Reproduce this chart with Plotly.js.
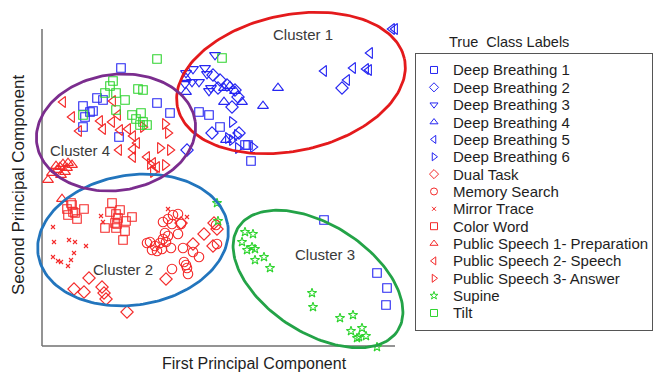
<!DOCTYPE html>
<html>
<head>
<meta charset="utf-8">
<script src="https://cdn.plot.ly/plotly-3.0.1.min.js"></script>
<style>
  html, body { margin: 0; padding: 0; background: #ffffff; }
  #chart { width: 654px; height: 374px; }
</style>
</head>
<body>
<div id="chart"></div>
<script>
// Principal component scores for each recording condition (PC1, PC2; arbitrary units)
const deepBreathing1X = [79, 55, 61, 41, 51, 48, 43, 41, 115, 128, 77, 157, 167, 178, 203, 206, 209, 282, 335, 345, 344];
const deepBreathing1Y = [278, 248, 246, 240, 235, 234, 229, 219, 243, 233, 209, 234, 231, 219, 201, 201, 185, 126, 73, 58, 41];

const deepBreathing2X = [171, 178, 185, 193, 196, 190, 170, 197, 300, 145, 176];
const deepBreathing2Y = [271, 266, 261, 256, 249, 239, 213, 213, 258, 196, 258];

const deepBreathing3X = [173, 151, 144, 163, 165, 150, 157, 143, 169, 167];
const deepBreathing3Y = [291, 277, 273, 278, 272, 264, 264, 262, 258, 255];

const deepBreathing4X = [182, 188, 193, 182, 200, 221, 236, 144, 144, 184];
const deepBreathing4Y = [258, 260, 255, 244, 244, 240, 258, 254, 268, 206];

const deepBreathing5X = [350, 353, 328, 282, 311, 324, 327, 305];
const deepBreathing5Y = [317, 317, 293, 275, 278, 277, 276, 266];

const deepBreathing6X = [190, 195, 186, 196, 211, 190];
const deepBreathing6Y = [224, 211, 208, 198, 199, 206];

const dualTaskX = [47, 32, 42, 60, 62, 64, 85, 124, 162, 151, 171, 175, 172, 139];
const dualTaskY = [68, 57, 54, 59, 53, 47, 34, 67, 112, 102, 100, 117, 123, 123];

const memorySearchX = [121, 126, 131, 136, 130, 139, 123, 126, 121, 136, 108, 113, 118, 124, 115, 120, 129, 141, 151, 157, 142, 144, 145, 146, 130, 174, 175, 105, 110];
const memorySearchY = [124, 127, 131, 132, 122, 122, 113, 110, 107, 112, 104, 100, 103, 104, 95, 97, 98, 98, 94, 89, 84, 81, 78, 72, 77, 121, 102, 103, 96];

const mirrorTraceX = [11, 12, 27, 33, 44, 32, 11, 16, 19, 29, 26, 59, 61, 126, 145];
const mirrorTraceY = [119, 104, 106, 104, 100, 93, 89, 85, 84, 86, 80, 130, 124, 137, 129];

const colorWordX = [29, 25, 31, 26, 33, 35, 42, 30, 70, 68, 78, 74, 76, 75, 84, 90, 63, 74, 83, 81, 73];
const colorWordY = [143, 137, 134, 131, 133, 127, 137, 141, 143, 134, 136, 132, 128, 122, 125, 129, 118, 118, 115, 106, 123];

const speechPrepX = [18, 21, 26, 30, 25, 15, 23, 10, 6, 19, 20, 14];
const speechPrepY = [179, 182, 183, 181, 178, 176, 174, 173, 166, 171, 147, 180];

const speechTalkX = [21, 30, 37, 58, 61, 71, 76, 70, 78, 86, 91, 95, 91, 77, 91, 105, 111, 115];
const speechTalkY = [244, 229, 215, 225, 217, 245, 231, 224, 216, 217, 210, 203, 197, 196, 189, 189, 183, 179];

const speechAnswerX = [101, 123, 126, 118, 128, 123, 111, 108];
const speechAnswerY = [219, 222, 213, 198, 196, 181, 174, 182];

const supineX = [203, 211, 200, 210, 205, 213, 213, 222, 228, 270, 271, 298, 311, 309, 320, 317, 324, 315, 335, 175, 176];
const supineY = [114, 112, 104, 99, 96, 97, 86, 89, 78, 53, 39, 28, 31, 15, 18, 9, 10, 8, -1, 143, 125];

const tiltX = [115, 180, 71, 68, 63, 74, 83, 96, 101, 74, 41, 90, 99, 94, 101, 105, 98];
const tiltY = [287, 288, 265, 260, 253, 253, 246, 257, 256, 236, 231, 231, 233, 227, 224, 221, 221];

const classLabels = [
  "Deep Breathing 1", "Deep Breathing 2", "Deep Breathing 3", "Deep Breathing 4",
  "Deep Breathing 5", "Deep Breathing 6", "Dual Task", "Memory Search", "Mirror Trace",
  "Color Word", "Public Speech 1- Preparation", "Public Speech 2- Speech",
  "Public Speech 3- Answer", "Supine", "Tilt"
];

const clusterNames = ["Cluster 1", "Cluster 2", "Cluster 3", "Cluster 4"];

// ---- styling ----
const BLUE = "#2626f2";
const RED = "#f42a2a";
const GREEN = "#2fd42f";
const FONT = "Liberation Sans, Arial, Helvetica, sans-serif";

const classes = [
  { x: deepBreathing1X, y: deepBreathing1Y, symbol: "square-open", color: BLUE, size: 8.5 },
  { x: deepBreathing2X, y: deepBreathing2Y, symbol: "diamond-open", color: BLUE, size: 9.5 },
  { x: deepBreathing3X, y: deepBreathing3Y, symbol: "triangle-down-open", color: BLUE, size: 9.5 },
  { x: deepBreathing4X, y: deepBreathing4Y, symbol: "triangle-up-open", color: BLUE, size: 9.5 },
  { x: deepBreathing5X, y: deepBreathing5Y, symbol: "triangle-left-open", color: BLUE, size: 9.5 },
  { x: deepBreathing6X, y: deepBreathing6Y, symbol: "triangle-right-open", color: BLUE, size: 9.5 },
  { x: dualTaskX, y: dualTaskY, symbol: "diamond-open", color: RED, size: 9.5 },
  { x: memorySearchX, y: memorySearchY, symbol: "circle-open", color: RED, size: 9.5 },
  { x: mirrorTraceX, y: mirrorTraceY, symbol: "x-thin-open", color: RED, size: 4 },
  { x: colorWordX, y: colorWordY, symbol: "square-open", color: RED, size: 8.5 },
  { x: speechPrepX, y: speechPrepY, symbol: "triangle-up-open", color: RED, size: 9.5 },
  { x: speechTalkX, y: speechTalkY, symbol: "triangle-left-open", color: RED, size: 9.5 },
  { x: speechAnswerX, y: speechAnswerY, symbol: "triangle-right-open", color: RED, size: 9.5 },
  { x: supineX, y: supineY, symbol: "star-open", color: GREEN, size: 7 },
  { x: tiltX, y: tiltY, symbol: "square-open", color: GREEN, size: 8.5 }
];

// cluster outlines: centre, semi-axes and tilt (degrees)
const outlines = [
  { cx: 249, cy: 263, a: 116, b: 68, angle: 12, color: "#e41a1c" },
  { cx: 91, cy: 106, a: 96, b: 65, angle: 9, color: "#2275bd" },
  { cx: 276, cy: 67, a: 95, b: 54, angle: -33, color: "#23a347" },
  { cx: 74, cy: 213.5, a: 80, b: 58, angle: 8, color: "#7b2d8e" }
];
const labelSpots = [
  { x: 261, y: 312 },
  { x: 81, y: 77 },
  { x: 283, y: 92 },
  { x: 38, y: 196 }
];

function ellipsePath(o) {
  const xs = [], ys = [];
  const t = o.angle * Math.PI / 180;
  for (let i = 0; i <= 180; i++) {
    const p = 2 * Math.PI * i / 180;
    const ex = o.a * Math.cos(p), ey = o.b * Math.sin(p);
    xs.push(o.cx + ex * Math.cos(t) - ey * Math.sin(t));
    ys.push(o.cy + ex * Math.sin(t) + ey * Math.cos(t));
  }
  return { xs, ys };
}

const traces = [];

classes.forEach((c, i) => {
  traces.push({
    type: "scatter", mode: "markers", name: classLabels[i],
    x: c.x, y: c.y, xaxis: "x", yaxis: "y",
    cliponaxis: false, showlegend: false, hoverinfo: "skip",
    marker: { symbol: c.symbol, size: c.size, color: c.color,
              line: { color: c.color, width: 1.1 } }
  });
});

outlines.forEach((o, i) => {
  const e = ellipsePath(o);
  traces.push({
    type: "scatter", mode: "lines", name: clusterNames[i],
    x: e.xs, y: e.ys, xaxis: "x", yaxis: "y",
    showlegend: false, hoverinfo: "skip",
    line: { color: o.color, width: 2.8 }
  });
});

// legend key: one marker per class on its own small axis pair
classes.forEach((c, i) => {
  traces.push({
    type: "scatter", mode: "markers", name: classLabels[i] + " key",
    x: [18], y: [i], xaxis: "x2", yaxis: "y2",
    showlegend: false, hoverinfo: "skip",
    marker: { symbol: c.symbol, size: c.symbol === "x-thin-open" ? 4 : (c.symbol === "star-open" ? 6 : 7),
              color: c.color, line: { color: c.color, width: 1 } }
  });
});

const annotations = [];

clusterNames.forEach((name, i) => {
  annotations.push({
    text: name, x: labelSpots[i].x, y: labelSpots[i].y, xref: "x", yref: "y",
    showarrow: false, xanchor: "center", yanchor: "middle",
    font: { family: FONT, size: 15, color: "#3a3a3a" }
  });
});

classLabels.forEach((label, i) => {
  annotations.push({
    text: label, x: 35, y: i, xref: "x2", yref: "y2",
    showarrow: false, xanchor: "left", yanchor: "middle",
    font: { family: FONT, size: 15, color: "#1e1e1e" }
  });
});

annotations.push({
  text: "True&nbsp;&nbsp;Class Labels", x: 509 / 654, y: (374 - 42) / 374,
  xref: "paper", yref: "paper", showarrow: false,
  xanchor: "center", yanchor: "middle",
  font: { family: FONT, size: 14.5, color: "#1e1e1e" }
});
annotations.push({
  text: "First Principal Component", x: 254 / 654, y: (374 - 363) / 374,
  xref: "paper", yref: "paper", showarrow: false,
  xanchor: "center", yanchor: "middle",
  font: { family: FONT, size: 16, color: "#1e1e1e" }
});
annotations.push({
  text: "Second Principal Component", x: 18 / 654, y: (374 - 185) / 374,
  xref: "paper", yref: "paper", showarrow: false, textangle: -90,
  xanchor: "center", yanchor: "middle",
  font: { family: FONT, size: 17, color: "#1e1e1e" }
});

const hidden = {
  showgrid: false, zeroline: false, showticklabels: false,
  ticks: "", showline: false, fixedrange: true
};

const layout = {
  width: 654, height: 374,
  margin: { l: 0, r: 0, t: 0, b: 0, pad: 0 },
  paper_bgcolor: "#ffffff", plot_bgcolor: "rgba(0,0,0,0)",
  showlegend: false,
  xaxis: Object.assign({}, hidden, { domain: [30 / 654, 412 / 654], range: [-12, 370], anchor: "y" }),
  yaxis: Object.assign({}, hidden, { domain: [19 / 374, 369 / 374], range: [-9, 341], anchor: "x" }),
  xaxis2: Object.assign({}, hidden, {
    domain: [416 / 654, 652 / 654], range: [0, 236], anchor: "y2",
    showline: true, mirror: true, linecolor: "#555555", linewidth: 1
  }),
  yaxis2: Object.assign({}, hidden, {
    domain: [44 / 374, 320 / 374], range: [14.98, -0.92], anchor: "x2",
    showline: true, mirror: true, linecolor: "#555555", linewidth: 1
  }),
  shapes: [
    { type: "line", xref: "x", yref: "y", x0: 0, y0: 0, x1: 0, y1: 317,
      line: { color: "#707070", width: 1.5 }, layer: "below" },
    { type: "line", xref: "x", yref: "y", x0: 0, y0: 0, x1: 353, y1: 0,
      line: { color: "#707070", width: 1.5 }, layer: "below" }
  ],
  annotations: annotations,
  font: { family: FONT }
};

Plotly.newPlot("chart", traces, layout, { staticPlot: true, displayModeBar: false });
</script>
</body>
</html>
